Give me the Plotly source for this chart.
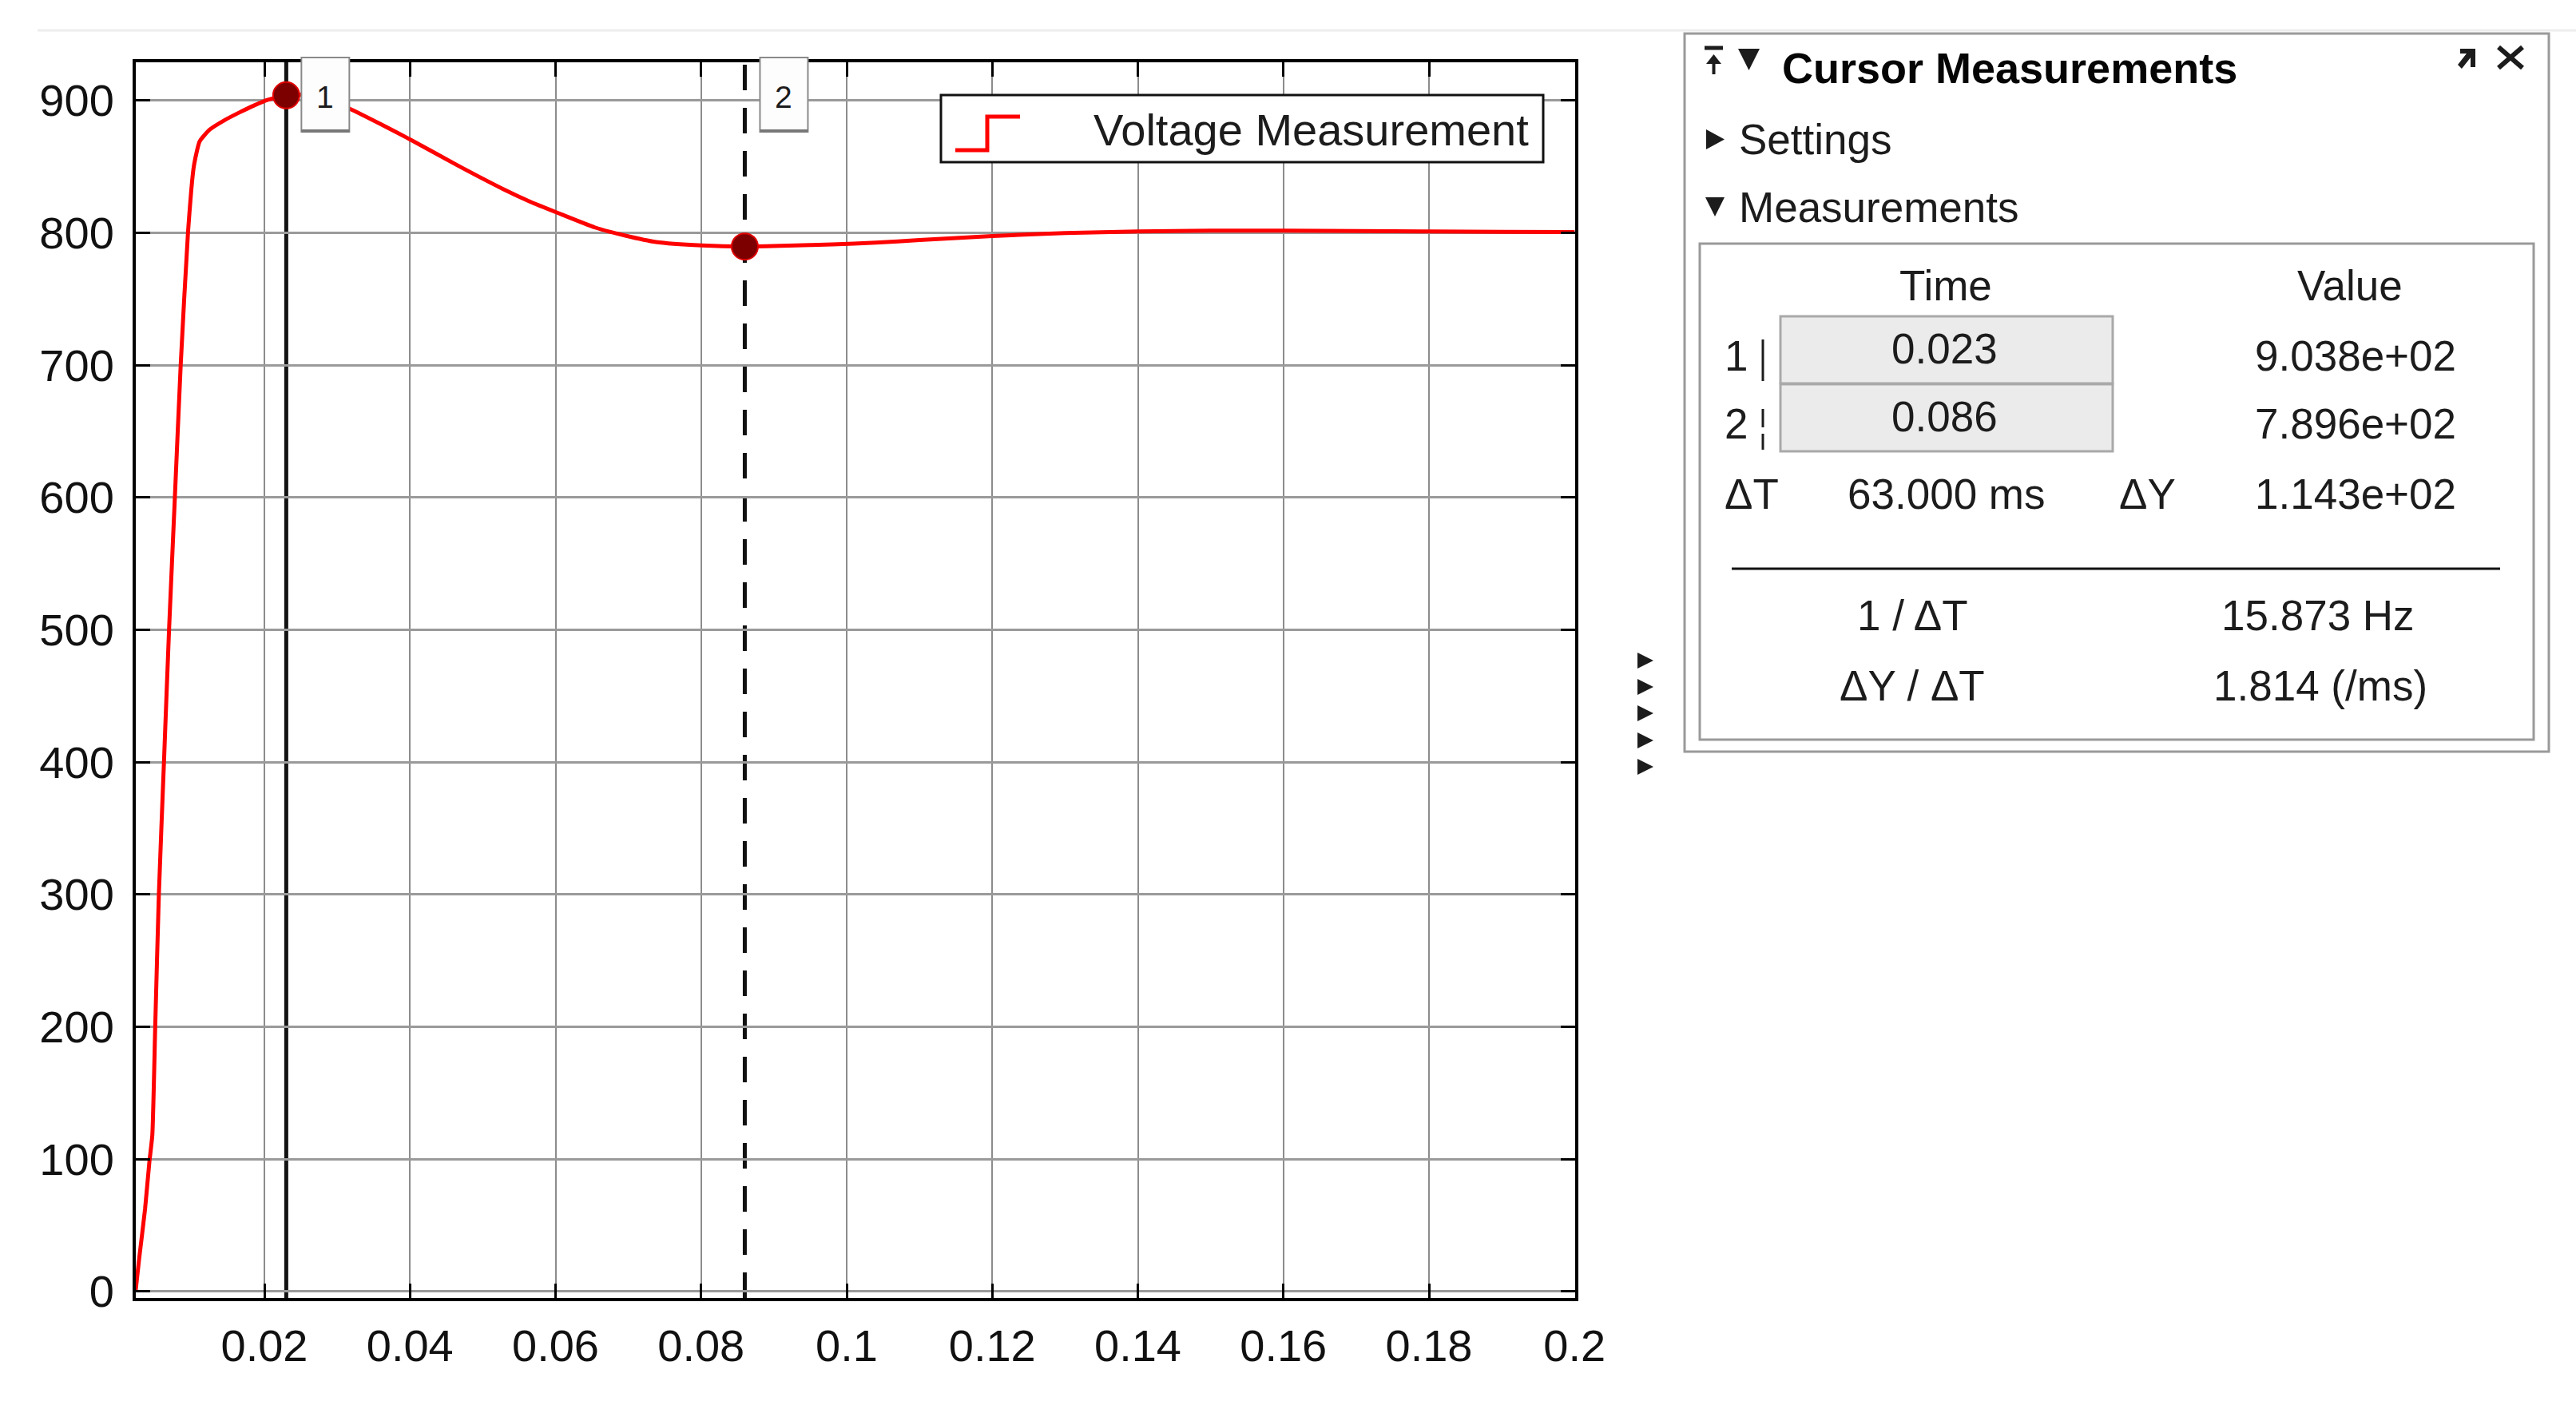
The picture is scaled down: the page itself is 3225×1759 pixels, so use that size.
import plotly.graph_objects as go

# voltage trace (time in s, volts)
time_s = [0.0023, 0.0028, 0.0036, 0.0042, 0.0046, 0.0050, 0.0055, 0.0062, 0.0069, 0.0077,
          0.0085, 0.0095, 0.0103, 0.0111, 0.0125, 0.0145, 0.0166, 0.0185, 0.0205, 0.0230,
          0.0255, 0.0285, 0.0318, 0.0360, 0.0402, 0.0465, 0.0528, 0.0565, 0.0603, 0.0654,
          0.0696, 0.0738, 0.0801, 0.0860, 0.0920, 0.0980, 0.1040, 0.1100, 0.1200,
          0.1300, 0.1400, 0.1500, 0.1600, 0.1700, 0.1800, 0.1900, 0.2000]
voltage = [0, 25, 62, 98, 118, 200, 300, 400, 500, 600,
           700, 800, 850, 869, 878, 885, 891, 896, 900.5, 903.84,
           904.3, 900.5, 893.5, 882, 870, 851, 833, 823.5, 815, 804,
           797.8, 793, 790.4, 789.56, 790.2, 791.2, 792.5, 794.5, 797.5,
           799.8, 801, 801.6, 801.6, 801.3, 801, 800.7, 800.5]

# cursors
cursor_id = ["1", "2"]
cursor_time = [0.023, 0.086]
cursor_value = [903.84, 789.56]

x_ticks = [0.02, 0.04, 0.06, 0.08, 0.1, 0.12, 0.14, 0.16, 0.18, 0.2]
x_tick_text = ["0.02", "0.04", "0.06", "0.08", "0.1", "0.12", "0.14", "0.16", "0.18", "0.2"]
y_ticks = [0, 100, 200, 300, 400, 500, 600, 700, 800, 900]

W, H = 3225, 1759
L, R, T, B = 170, 1253, 78, 134
PW, PH = W - L - R, H - T - B
X_RANGE = [0.00233, 0.20008]
Y_RANGE = [-5.0, 928.8]
FONT = "Liberation Sans, Arial, sans-serif"
INK = "#1c1c1c"


def px(x):
    return (x - L) / PW


def py(y):
    return 1 - (y - T) / PH


def tx(t):
    # data time -> paper x
    return (t - X_RANGE[0]) / (X_RANGE[1] - X_RANGE[0])


shapes = []
notes = []


def line(x0, y0, x1, y1, color=INK, width=3, dash="solid"):
    shapes.append(dict(type="line", xref="paper", yref="paper",
                       x0=px(x0), y0=py(y0), x1=px(x1), y1=py(y1),
                       line=dict(color=color, width=width, dash=dash), layer="above"))


def rect(x0, y0, x1, y1, color="#999999", width=2, fill="white"):
    shapes.append(dict(type="rect", xref="paper", yref="paper",
                       x0=px(x0), y0=py(y0), x1=px(x1), y1=py(y1),
                       line=dict(color=color, width=width), fillcolor=fill, layer="above"))


def poly(pts, color=INK, closed=True, width=0, fill=None):
    d = "M " + " L ".join(f"{px(a):.5f},{py(b):.5f}" for a, b in pts)
    if closed:
        d += " Z"
    shapes.append(dict(type="path", xref="paper", yref="paper", path=d,
                       line=dict(color=color, width=width),
                       fillcolor=fill if fill else "rgba(0,0,0,0)", layer="above"))


def text(x, y, s, size=53, anchor="center", bold=False, color=INK):
    if bold:
        s = f"<b>{s}</b>"
    notes.append(dict(x=px(x), y=py(y), xref="paper", yref="paper", text=s,
                      showarrow=False, xanchor=anchor, yanchor="middle",
                      font=dict(family=FONT, size=size, color=color)))


fig = go.Figure()

fig.add_trace(go.Scatter(x=time_s, y=voltage, mode="lines",
                         line=dict(color="#ff0000", width=5, shape="spline", smoothing=0.5),
                         name="Voltage Measurement", showlegend=False, cliponaxis=True))

fig.add_trace(go.Scatter(x=cursor_time, y=cursor_value, mode="markers",
                         marker=dict(size=33, color="#7d0000", line=dict(color="#e00000", width=2)),
                         showlegend=False, cliponaxis=False))

# --- cursor lines and their little number tabs ---
for i, (cid, ct) in enumerate(zip(cursor_id, cursor_time)):
    shapes.append(dict(type="line", xref="x", yref="paper", x0=ct, x1=ct, y0=0, y1=1,
                       line=dict(color="#111111", width=5, dash="solid" if i == 0 else "32px,22px"),
                       layer="between"))
    cx = L + tx(ct) * PW
    rect(cx + 19, 72, cx + 79, 165, color="#8a8a8a", width=2, fill="#fdfdfd")
    line(cx + 19, 164, cx + 79, 164, color="#777777", width=4)
    text(cx + 49, 121, cid, size=39)

# --- legend box with the step icon ---
rect(1178, 119, 1932, 203, color="#111111", width=3, fill="white")
poly([(1196, 188), (1236, 188), (1236, 146), (1277, 146)], color="#ff0000", closed=False, width=5)
text(1916, 162, "Voltage Measurement", size=56, anchor="right")

# faint window edge across the top
line(47, 38, W, 38, color="#ededed", width=3)

# --- Cursor Measurements panel ---
rect(2109, 42, 3191, 941, color="#9a9a9a", width=3, fill="white")
# pin icon + collapse triangle
line(2134, 60, 2157, 60, width=5)
poly([(2145.5, 68), (2136, 80), (2155, 80)], fill=INK)
line(2145.5, 72, 2145.5, 93, width=4)
poly([(2176, 61), (2203, 61), (2189.5, 88)], fill=INK)
text(2229, 85, "Cursor Measurements", size=54, anchor="left", bold=True, color="#050505")
# undock arrow and close cross
poly([(3080, 61), (3099, 61), (3099, 84), (3093, 84), (3093, 72), (3082, 86), (3077, 81), (3088, 67), (3080, 67)], fill=INK)
line(3128, 59, 3158, 85, width=6)
line(3128, 85, 3158, 59, width=6)

poly([(2136, 162), (2136, 187), (2159, 174.5)], fill=INK)
text(2175, 174, "Settings", size=53, anchor="left")
poly([(2135, 247), (2159, 247), (2147, 271)], fill=INK)
text(2175, 259, "Measurements", size=53, anchor="left")

rect(2128, 305, 3172, 926, color="#9a9a9a", width=3, fill="white")
text(2436, 357, "Time", size=53)
text(2942, 357, "Value", size=53)

row_y = [437, 522]
for i, (cid, ct, cv) in enumerate(zip(cursor_id, cursor_time, cursor_value)):
    yc = row_y[i]
    text(2157, yc + 8, cid, size=53, anchor="left")
    if i == 0:
        line(2207, yc - 12, 2207, yc + 40, width=3)
    else:
        line(2207, yc - 10, 2207, yc + 13, width=3)
        line(2207, yc + 21, 2207, yc + 41, width=3)
    rect(2229, yc - 41, 2645, yc + 43, color="#a9a9a9", width=3, fill="#ebebeb")
    text(2434, yc - 1, f"{ct:.3f}", size=53)
    text(2949, yc + 8, f"{cv:.3e}", size=53)

dt = cursor_time[1] - cursor_time[0]
dy = cursor_value[0] - cursor_value[1]
text(2157, 618, "ΔT", size=53, anchor="left")
text(2436, 618, f"{dt * 1000:.3f} ms", size=53)
text(2688, 618, "ΔY", size=53)
text(2949, 618, f"{dy:.3e}", size=53)
line(2168, 712, 3130, 712, color="#111111", width=3)
text(2394, 771, "1 / ΔT", size=53)
text(2902, 771, f"{1 / dt:.3f} Hz", size=53)
text(2394, 858, "ΔY / ΔT", size=53)
text(2905, 858, f"{dy / (dt * 1000):.3f} (/ms)", size=53)

# little dock arrows left of the panel
for yc in [827, 860, 893, 927, 960]:
    poly([(2050, yc - 10), (2050, yc + 10), (2070, yc)], fill=INK)

axis_common = dict(showline=True, linecolor="black", linewidth=4, mirror="ticks",
                   ticks="inside", ticklen=18, tickwidth=3, tickcolor="black",
                   zeroline=False, showgrid=True,
                   tickfont=dict(family=FONT, size=56, color="#111111"))

fig.update_layout(
    width=W, height=H, autosize=False,
    margin=dict(l=L, r=R, t=T, b=B, pad=0),
    paper_bgcolor="white", plot_bgcolor="white",
    showlegend=False,
    xaxis=dict(range=X_RANGE, tickvals=x_ticks, ticktext=x_tick_text,
               gridcolor="#8c8c8c", gridwidth=2, ticklabelstandoff=8, **axis_common),
    yaxis=dict(range=Y_RANGE, tickvals=y_ticks,
               gridcolor="#9a9a9a", gridwidth=3, ticklabelstandoff=12, **axis_common),
    shapes=shapes,
    annotations=notes,
)

fig.write_html("out.html", config={"displayModeBar": False},
               post_script="document.body.style.margin='0';document.body.style.overflow='hidden';")
